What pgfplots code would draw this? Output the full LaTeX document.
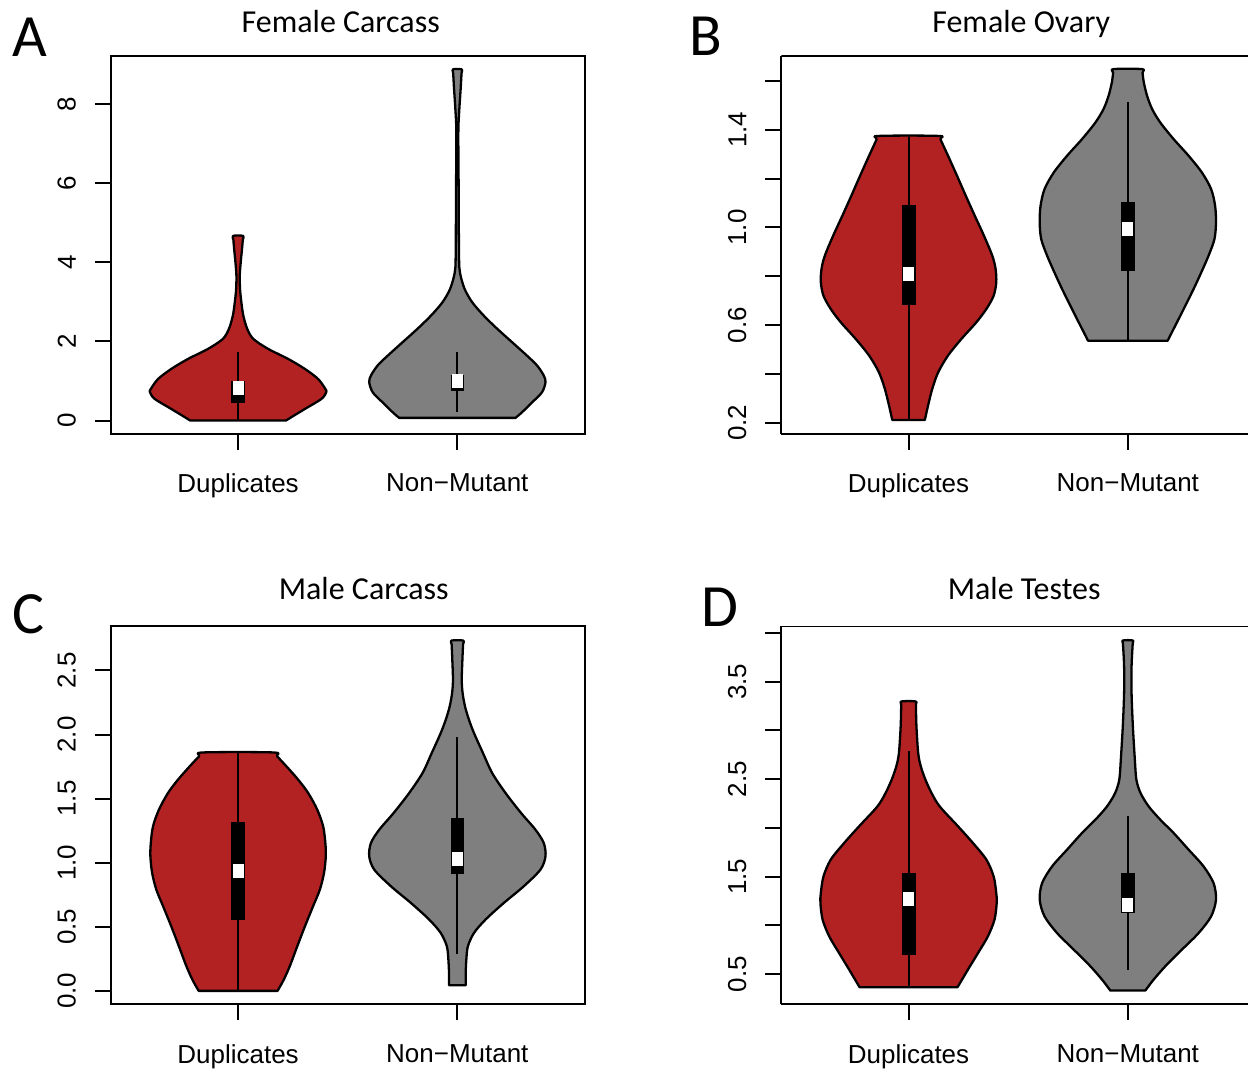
\documentclass[border=0pt]{standalone}
\usepackage{fontspec}
\setmainfont{Liberation Sans}
\newfontfamily\titlefont{Carlito}
\usepackage{pgfplots}
\pgfplotsset{compat=1.18}
\usepackage{pgfplotstable}
\definecolor{vred}{RGB}{178,34,34}
\definecolor{vgray}{RGB}{127,127,127}

% violin half-widths h (x units) at heights y
\pgfplotstableread{
y h
0.000 0.218
0.100 0.247
0.295 0.305
0.547 0.380
0.715 0.402
0.800 0.398
1.052 0.365
1.305 0.305
1.557 0.229
1.810 0.138
2.062 0.070
2.315 0.042
2.650 0.024
2.990 0.015
3.320 0.009
3.660 0.0076
4.000 0.012
4.340 0.018
4.570 0.0215
4.670 0.023
}\tAa
\pgfplotstableread{
y h
0.068 0.265
0.118 0.276
0.210 0.295
0.460 0.341
0.715 0.386
0.970 0.402
1.140 0.394
1.390 0.364
1.640 0.318
1.980 0.250
2.320 0.182
2.650 0.121
2.990 0.068
3.330 0.033
3.740 0.012
4.170 0.0076
5.850 0.006
7.280 0.0045
7.870 0.009
8.380 0.015
8.780 0.019
8.880 0.020
}\tAb
\pgfplotstableread{
y h
0.211 0.074
0.226 0.078
0.270 0.089
0.338 0.108
0.406 0.135
0.475 0.180
0.543 0.241
0.611 0.309
0.666 0.355
0.720 0.388
0.775 0.400
0.830 0.397
0.884 0.382
0.966 0.344
1.048 0.302
1.130 0.261
1.212 0.221
1.294 0.180
1.360 0.146
1.375 0.138
}\tBa
\pgfplotstableread{
y h
0.536 0.182
0.551 0.190
0.611 0.224
0.679 0.262
0.748 0.300
0.816 0.335
0.884 0.368
0.952 0.395
1.020 0.402
1.089 0.398
1.157 0.380
1.225 0.338
1.294 0.277
1.362 0.209
1.430 0.148
1.485 0.111
1.539 0.088
1.594 0.073
1.634 0.067
1.649 0.065
}\tBb
\pgfplotstableread{
y h
0.000 0.180
0.030 0.190
0.089 0.209
0.193 0.236
0.348 0.270
0.504 0.305
0.660 0.342
0.790 0.373
0.920 0.392
1.050 0.400
1.154 0.398
1.284 0.388
1.414 0.361
1.543 0.320
1.648 0.274
1.751 0.221
1.830 0.178
1.860 0.161
}\tCa
\pgfplotstableread{
y h
0.044 0.038
0.074 0.038
0.140 0.038
0.245 0.041
0.348 0.048
0.452 0.076
0.557 0.129
0.686 0.212
0.816 0.303
0.946 0.379
1.050 0.402
1.154 0.394
1.258 0.356
1.387 0.291
1.543 0.220
1.699 0.159
1.855 0.117
2.011 0.076
2.115 0.053
2.219 0.035
2.323 0.024
2.427 0.020
2.583 0.023
2.703 0.026
2.733 0.027
}\tCb
\pgfplotstableread{
y h
0.367 0.223
0.407 0.234
0.548 0.271
0.718 0.317
0.889 0.362
1.060 0.392
1.231 0.402
1.333 0.400
1.504 0.388
1.675 0.355
1.845 0.294
2.016 0.226
2.221 0.142
2.358 0.105
2.495 0.077
2.631 0.056
2.767 0.044
3.041 0.036
3.257 0.0335
3.297 0.033
}\tDa
\pgfplotstableread{
y h
0.333 0.080
0.373 0.093
0.446 0.118
0.582 0.171
0.753 0.247
0.923 0.323
1.094 0.380
1.265 0.402
1.435 0.391
1.607 0.345
1.778 0.277
1.948 0.209
2.085 0.148
2.221 0.095
2.358 0.058
2.495 0.039
2.700 0.032
3.041 0.023
3.382 0.017
3.656 0.017
3.882 0.022
3.922 0.023
}\tDb

% build a closed outline: right side upwards, then left side downwards
\newcommand{\mkoutline}[2]{%
  \pgfplotstablesort[sort key=y, sort cmp={float >}]{#2}{#1}%
  \pgfplotstablecreatecol[expr={1}]{s}{#1}%
  \pgfplotstablecreatecol[expr={-1}]{s}{#2}%
  \pgfplotstablevertcat{#1}{#2}%
}
\mkoutline{\tAa}{\tAaR}
\mkoutline{\tAb}{\tAbR}
\mkoutline{\tBa}{\tBaR}
\mkoutline{\tBb}{\tBbR}
\mkoutline{\tCa}{\tCaR}
\mkoutline{\tCb}{\tCbR}
\mkoutline{\tDa}{\tDaR}
\mkoutline{\tDb}{\tDbR}

\pgfplotsset{
  violinaxis/.style={
    scale only axis, width=237pt, height=189pt,
    xmin=0.42, xmax=2.58,
    axis line style={line width=1pt},
    xtick={1,2}, xticklabels={Duplicates,Non−Mutant},
    tick align=outside, xtick pos=left, ytick pos=left,
    major tick length=8pt,
    tick style={line width=1pt, black},
    ticklabel style={font=\fontsize{13}{15}\selectfont},
    xticklabel shift=8.5pt,
    yticklabel style={rotate=90, anchor=south},
    yticklabel shift=6pt,
  },
  % right-hand panels: the picture is cut at their right edge
  cutaxis/.style={
    violinaxis, width=233.5pt, xmax=2.548,
    axis x line*=bottom, axis y line*=left,
  }
}

% center, table, colour
\newcommand{\violin}[3]{%
  \addplot[fill=#3, draw=black, line width=1.15pt, line join=round, smooth, tension=0.5] table[x expr={#1+\thisrow{s}*\thisrow{h}}, y=y] {#2} -- cycle;
}

\begin{document}
\begin{tikzpicture}
\path (0,0) rectangle (624.5pt,534pt);

% ---------------- A
\begin{axis}[violinaxis, at={(55.5pt,317pt)}, anchor=south west,
  ymin=-0.33, ymax=9.22, ytick={0,2,4,6,8}, yticklabels={0,2,4,6,8}]
\violin{1}{\tAa}{vred}
\violin{2}{\tAb}{vgray}
\addplot[black, line width=1pt] coordinates {(1,0) (1,1.742)};
\addplot[fill=black, draw=black] coordinates {(0.971,0.463) (1.029,0.463) (1.029,0.985) (0.971,0.985)} -- cycle;
\addplot[black, line width=1pt] coordinates {(2,0.21) (2,1.725)};
\addplot[fill=black, draw=black] coordinates {(1.971,0.775) (2.029,0.775) (2.029,1.154) (1.971,1.154)} -- cycle;
\addplot[only marks, mark=square*, mark size=3.25pt, mark options={fill=white, draw=white, xscale=0.77}] coordinates {(1,0.816) (2,1.01)};
\end{axis}

% ---------------- B
\begin{axis}[cutaxis, at={(391pt,317pt)}, anchor=south west,
  ymin=0.155, ymax=1.703, ytick={0.2,0.4,0.6,0.8,1.0,1.2,1.4,1.6}, yticklabels={0.2,,0.6,,1.0,,1.4,}]
\draw[line width=1pt] (rel axis cs:0,1) -- (rel axis cs:1,1);
\violin{1}{\tBa}{vred}
\violin{2}{\tBb}{vgray}
\addplot[black, line width=1pt] coordinates {(1,0.211) (1,1.375)};
\addplot[fill=black, draw=black] coordinates {(0.971,0.683) (1.029,0.683) (1.029,1.089) (0.971,1.089)} -- cycle;
\addplot[black, line width=1pt] coordinates {(2,0.536) (2,1.515)};
\addplot[fill=black, draw=black] coordinates {(1.971,0.823) (2.029,0.823) (2.029,1.102) (1.971,1.102)} -- cycle;
\addplot[only marks, mark=square*, mark size=3.25pt, mark options={fill=white, draw=white, xscale=0.77}] coordinates {(1,0.809) (2,0.996)};
\end{axis}

% ---------------- C
\begin{axis}[violinaxis, at={(55.5pt,31.5pt)}, anchor=south west,
  ymin=-0.104, ymax=2.843, ytick={0,0.5,1,1.5,2,2.5}, yticklabels={0.0,0.5,1.0,1.5,2.0,2.5}]
\violin{1}{\tCa}{vred}
\violin{2}{\tCb}{vgray}
\addplot[black, line width=1pt] coordinates {(1,0) (1,1.86)};
\addplot[fill=black, draw=black] coordinates {(0.971,0.561) (1.029,0.561) (1.029,1.313) (0.971,1.313)} -- cycle;
\addplot[black, line width=1pt] coordinates {(2,0.288) (2,1.980)};
\addplot[fill=black, draw=black] coordinates {(1.971,0.920) (2.029,0.920) (2.029,1.348) (1.971,1.348)} -- cycle;
\addplot[only marks, mark=square*, mark size=3.25pt, mark options={fill=white, draw=white, xscale=0.77}] coordinates {(1,0.933) (2,1.032)};
\end{axis}

% ---------------- D
\begin{axis}[cutaxis, at={(391pt,31.5pt)}, anchor=south west,
  ymin=0.193, ymax=4.066, ytick={0.5,1,1.5,2,2.5,3,3.5,4}, yticklabels={0.5,,1.5,,2.5,,3.5,}]
\draw[line width=1pt] (rel axis cs:0,1) -- (rel axis cs:1,1);
\violin{1}{\tDa}{vred}
\violin{2}{\tDb}{vgray}
\addplot[black, line width=1pt] coordinates {(1,0.367) (1,2.792)};
\addplot[fill=black, draw=black] coordinates {(0.971,0.702) (1.029,0.702) (1.029,1.538) (0.971,1.538)} -- cycle;
\addplot[black, line width=1pt] coordinates {(2,0.548) (2,2.119)};
\addplot[fill=black, draw=black] coordinates {(1.971,1.138) (2.029,1.138) (2.029,1.532) (1.971,1.532)} -- cycle;
\addplot[only marks, mark=square*, mark size=3.25pt, mark options={fill=white, draw=white, xscale=0.77}] coordinates {(1,1.276) (2,1.214)};
\end{axis}

% titles and panel letters
\node[anchor=base, inner sep=0pt, font=\titlefont\fontsize{16}{18}\selectfont] at (170.5pt,517.5pt) {Female Carcass};
\node[anchor=base, inner sep=0pt, font=\titlefont\fontsize{16}{18}\selectfont] at (511pt,517.5pt) {Female Ovary};
\node[anchor=base, inner sep=0pt, font=\titlefont\fontsize{16}{18}\selectfont] at (182pt,234pt) {Male Carcass};
\node[anchor=base, inner sep=0pt, font=\titlefont\fontsize{16}{18}\selectfont] at (512.5pt,234pt) {Male Testes};
\node[anchor=base west, inner sep=0pt, font=\titlefont\fontsize{30}{32}\selectfont] at (6pt,505.5pt) {A};
\node[anchor=base west, inner sep=0pt, font=\titlefont\fontsize{30}{32}\selectfont] at (345pt,506pt) {B};
\node[anchor=base west, inner sep=0pt, font=\titlefont\fontsize{30}{32}\selectfont] at (6pt,217pt) {C};
\node[anchor=base west, inner sep=0pt, font=\titlefont\fontsize{30}{32}\selectfont] at (351pt,220.5pt) {D};
\end{tikzpicture}
\end{document}
